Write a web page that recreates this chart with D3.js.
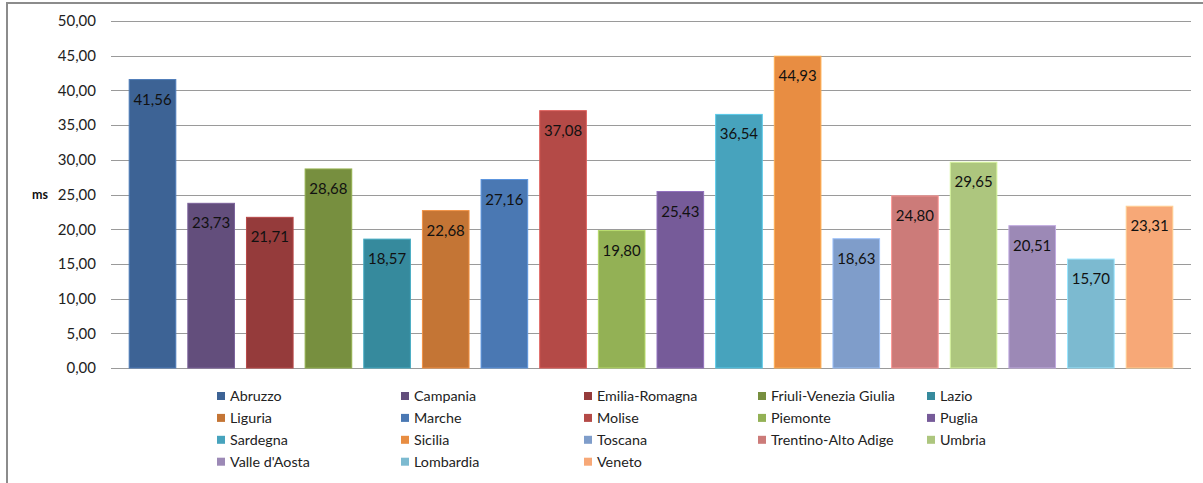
<!DOCTYPE html>
<html>
<head>
<meta charset="utf-8">
<script src="https://cdn.jsdelivr.net/npm/d3@7"></script>
<style>
  html, body { margin: 0; padding: 0; background: #fff; }
  svg { display: block; font-family: Lato, "Open Sans", sans-serif; }
</style>
</head>
<body>
<svg id="chart" width="1203" height="483"></svg>
<script>
// Average response time per region (ms)
const regions = [
  "Abruzzo", "Campania", "Emilia-Romagna", "Friuli-Venezia Giulia", "Lazio",
  "Liguria", "Marche", "Molise", "Piemonte", "Puglia",
  "Sardegna", "Sicilia", "Toscana", "Trentino-Alto Adige", "Umbria",
  "Valle d'Aosta", "Lombardia", "Veneto"
];
const values = [
  41.56, 23.73, 21.71, 28.68, 18.57,
  22.68, 27.16, 37.08, 19.80, 25.43,
  36.54, 44.93, 18.63, 24.80, 29.65,
  20.51, 15.70, 23.31
];
const colors = [
  "#3d6395", "#634e7c", "#953b3b", "#778f3f", "#368a9d",
  "#c47535", "#4a78b3", "#b44a47", "#93b155", "#765b99",
  "#47a3bd", "#e88d42", "#7f9dca", "#cc7b79", "#adc67e",
  "#9c89b6", "#7cbad0", "#f7a877"
];
const yTicks = [0, 5, 10, 15, 20, 25, 30, 35, 40, 45, 50];
const yLabel = "ms";

const svg = d3.select("#chart");
const fmt = v => d3.format(".2f")(v).replace(".", ",");

// Plot area
const plot = { left: 111, right: 1191, top: 21, bottom: 368 };

const x = d3.scaleBand()
  .domain(regions)
  .range([plot.left, plot.right])
  .paddingInner(0.205)
  .paddingOuter(0.31);

const y = d3.scaleLinear()
  .domain([0, 50])
  .range([plot.bottom, plot.top]);

// Outer frame (left and top edges visible)
svg.append("path")
  .attr("d", "M7,483 V3 H1203")
  .attr("fill", "none")
  .attr("stroke", "#8c8c8c")
  .attr("stroke-width", 2);

// Gridlines
svg.append("g")
  .selectAll("line")
  .data(yTicks)
  .join("line")
  .attr("x1", plot.left)
  .attr("x2", plot.right)
  .attr("y1", d => Math.round(y(d)) + 0.5)
  .attr("y2", d => Math.round(y(d)) + 0.5)
  .attr("stroke", "#9a9a9a")
  .attr("stroke-width", 1);

// Y axis labels
const yAxis = d3.axisLeft(y)
  .tickValues(yTicks)
  .tickFormat(fmt)
  .tickSize(0)
  .tickPadding(0);

svg.append("g")
  .attr("transform", `translate(${plot.left - 15},0)`)
  .call(yAxis)
  .call(g => g.select(".domain").remove())
  .call(g => g.selectAll("text")
    .attr("font-family", "Lato, 'Open Sans', sans-serif")
    .attr("font-size", 15)
    .attr("fill", "#222"));

svg.append("text")
  .attr("x", 40)
  .attr("y", y(25))
  .attr("dy", "0.35em")
  .attr("text-anchor", "middle")
  .attr("font-size", 12.5)
  .attr("font-weight", "bold")
  .attr("fill", "#111")
  .text(yLabel);

// Bars
const bars = svg.append("g")
  .selectAll("g")
  .data(regions.map((r, i) => ({ r, v: values[i], c: colors[i] })))
  .join("g");

bars.append("rect")
  .attr("x", d => x(d.r))
  .attr("y", d => y(d.v))
  .attr("width", x.bandwidth())
  .attr("height", d => y(0) - y(d.v))
  .attr("fill", d => d.c)
  .attr("stroke", d => d3.color(d.c).brighter(0.6))
  .attr("stroke-width", 1);

bars.append("text")
  .attr("x", d => x(d.r) + x.bandwidth() / 2)
  .attr("y", d => y(d.v) + 25)
  .attr("text-anchor", "middle")
  .attr("font-size", 15)
  .attr("fill", "#111")
  .text(d => fmt(d.v));

// Legend: 5 columns, row-major order
const legendCols = [217, 401, 584, 758, 927];
const legendRow0 = 396, legendRowStep = 21.9;

const legend = svg.append("g")
  .selectAll("g")
  .data(regions.map((r, i) => ({ r, c: colors[i], i })))
  .join("g")
  .attr("transform", d =>
    `translate(${legendCols[d.i % 5]},${legendRow0 + Math.floor(d.i / 5) * legendRowStep})`);

legend.append("rect")
  .attr("x", 0)
  .attr("y", -4)
  .attr("width", 8)
  .attr("height", 8)
  .attr("fill", d => d.c);

legend.append("text")
  .attr("x", 13)
  .attr("y", 0)
  .attr("dy", "0.35em")
  .attr("font-size", 14.3)
  .attr("fill", "#222")
  .text(d => d.r);
</script>
</body>
</html>
